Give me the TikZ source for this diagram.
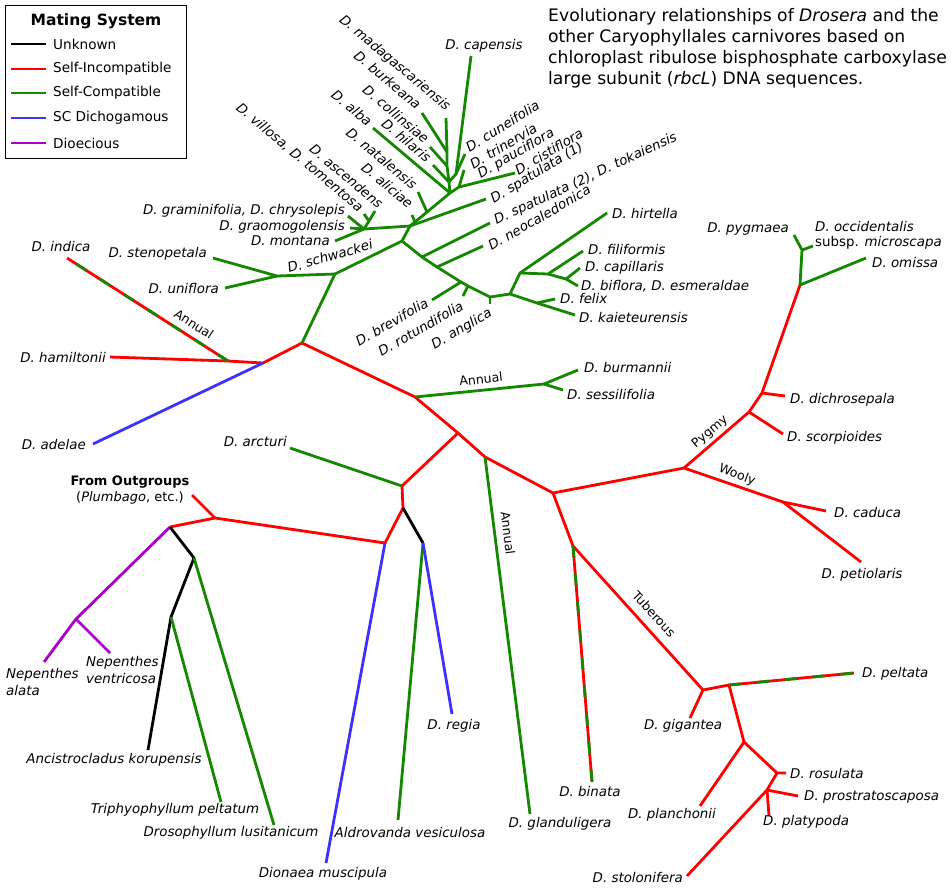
\documentclass[tikz,border=0pt]{standalone}
\usepackage{fontspec}
\setmainfont{DejaVu Sans}
\usepackage{tikz}

\definecolor{sicol}{RGB}{255,0,0}
\definecolor{sccol}{RGB}{20,136,0}
\definecolor{dichcol}{RGB}{60,50,255}
\definecolor{diocol}{RGB}{170,0,200}

\tikzset{
	branch/.style={line width=2.8pt, line join=round},
	unk/.style={branch, draw=black},
	si/.style={branch, draw=sicol},
	sc/.style={branch, draw=sccol},
	dich/.style={branch, draw=dichcol},
	dio/.style={branch, draw=diocol},
	scdash/.style={branch, draw=sccol, dash pattern=on 12pt off 16pt},
	taxon/.style={font=\fontsize{13.4}{15}\selectfont\itshape, inner sep=1pt},
	clade/.style={font=\fontsize{12.5}{14}\selectfont, inner sep=1pt},
	legtext/.style={font=\fontsize{13.6}{16}\selectfont, anchor=west, inner sep=0pt},
}

\begin{document}
\begin{tikzpicture}[x=1pt,y=-1pt]
	\useasboundingbox (0,0) rectangle (952,887);

	%Legend
	\draw [line width=0.8pt] (5,5) rectangle (186,158);
	\node [font=\fontsize{15.5}{18}\selectfont\bfseries] (legtitle) at (96,21) {Mating System};
	\coordinate (leg1a) at (11,44); \coordinate (leg1b) at (46,44);
	\coordinate (leg2a) at (11,69); \coordinate (leg2b) at (46,69);
	\coordinate (leg3a) at (11,93); \coordinate (leg3b) at (46,93);
	\coordinate (leg4a) at (11,118); \coordinate (leg4b) at (46,118);
	\coordinate (leg5a) at (11,143); \coordinate (leg5b) at (46,143);
	\draw [unk] (leg1a) -- (leg1b);
	\draw [si] (leg2a) -- (leg2b);
	\draw [sc] (leg3a) -- (leg3b);
	\draw [dich] (leg4a) -- (leg4b);
	\draw [dio] (leg5a) -- (leg5b);
	\node [legtext] (leg1) at (53,44) {Unknown};
	\node [legtext] (leg2) at (53,69) {Self-Incompatible};
	\node [legtext] (leg3) at (53,93) {Self-Compatible};
	\node [legtext] (leg4) at (53,118) {SC Dichogamous};
	\node [legtext] (leg5) at (53,143) {Dioecious};

	%Title
	\node [anchor=north west, align=left, inner sep=0pt, font=\fontsize{17.2}{21}\selectfont] (title) at (548,8) {Evolutionary relationships of \textit{Drosera} and the\\ other Caryophyllales carnivores based on\\ chloroplast ribulose bisphosphate carboxylase\\ large subunit (\textit{rbcL}) DNA sequences.};

	%Outgroups
	\coordinate (out) at (192,495);
	\coordinate (o1) at (215,518);
	\coordinate (n1) at (170,527);
	\coordinate (nep) at (76,619);
	\coordinate (nalata) at (44,662);
	\coordinate (nventr) at (110,653);
	\coordinate (anc1) at (194,558);
	\coordinate (anc2) at (171,617);
	\coordinate (ancis) at (148,750);
	\coordinate (triph) at (221,802);
	\coordinate (droso) at (274,825);
	\draw [si] (out) -- (o1);
	\draw [si] (n1) -- (o1);
	\draw [dio] (n1) -- (nep) -- (nalata);
	\draw [dio] (nep) -- (nventr);
	\draw [unk] (n1) -- (anc1) -- (anc2) -- (ancis);
	\draw [sc] (anc2) -- (triph);
	\draw [sc] (anc1) -- (droso);

	%Dionaea and Aldrovanda
	\coordinate (n2) at (385,543);
	\coordinate (dion) at (326,863);
	\coordinate (n3) at (403,508);
	\coordinate (n4) at (402,486);
	\coordinate (n5) at (423,543);
	\coordinate (aldro) at (398,820);
	\coordinate (regia) at (452,714);
	\coordinate (arcturi) at (290,448);
	\draw [si] (o1) -- (n2) -- (n3) -- (n4);
	\draw [dich] (n2) -- (dion);
	\draw [unk] (n3) -- (n5);
	\draw [sc] (n5) -- (aldro);
	\draw [dich] (n5) -- (regia);
	\draw [sc] (n4) -- (arcturi);

	%Main Drosera spine
	\coordinate (n6) at (458,433);
	\coordinate (n7) at (415,397);
	\coordinate (n8) at (485,457);
	\coordinate (glandu) at (530,814);
	\coordinate (n9) at (553,493);
	\coordinate (n10) at (684,468);
	\draw [si] (n4) -- (n6) -- (n8) -- (n9) -- (n10);
	\draw [si] (n6) -- (n7);
	\draw [sc] (n8) -- (glandu);

	%Tuberous
	\coordinate (n11) at (573,546);
	\coordinate (binata) at (592,782);
	\coordinate (n12) at (703,690);
	\coordinate (gigantea) at (690,718);
	\coordinate (n13) at (729,685);
	\coordinate (peltata) at (854,673);
	\coordinate (n14) at (744,742);
	\coordinate (planch) at (700,806);
	\coordinate (n15) at (777,773);
	\coordinate (rosul) at (786,773);
	\coordinate (n16) at (767,790);
	\coordinate (prostr) at (798,796);
	\coordinate (platyp) at (769,816);
	\coordinate (stolon) at (687,876);
	\draw [si] (n9) -- (n11) -- (n12) -- (n13) -- (n14) -- (n15) -- (rosul);
	\draw [si] (n12) -- (gigantea);
	\draw [si] (n14) -- (planch);
	\draw [si] (n15) -- (n16) -- (stolon);
	\draw [si] (n16) -- (prostr);
	\draw [si] (n16) -- (platyp);
	\draw [si] (n11) -- (binata);
	\draw [scdash] (n11) -- (binata);
	\draw [si] (n13) -- (peltata);
	\draw [scdash] (n13) -- (peltata);

	%Pygmy
	\coordinate (n17) at (749,412);
	\coordinate (n18) at (762,393);
	\coordinate (scorp) at (783,434);
	\coordinate (dichro) at (785,396);
	\coordinate (n19) at (800,285);
	\coordinate (omissa) at (866,258);
	\coordinate (n20) at (802,250);
	\coordinate (pygm) at (794,235);
	\coordinate (occid) at (813,246);
	\draw [si] (n10) -- (n17) -- (n18) -- (n19);
	\draw [si] (n17) -- (scorp);
	\draw [si] (n18) -- (dichro);
	\draw [sc] (n19) -- (n20) -- (pygm);
	\draw [sc] (n20) -- (occid);
	\draw [sc] (n19) -- (omissa);

	%Wooly
	\coordinate (n21) at (783,502);
	\coordinate (caduca) at (826,511);
	\coordinate (petiol) at (861,562);
	\draw [si] (n10) -- (n21) -- (petiol);
	\draw [si] (n21) -- (caduca);

	%Annual (burmannii)
	\coordinate (n22) at (544,384);
	\coordinate (burm) at (578,370);
	\coordinate (sessil) at (563,390);
	\draw [sc] (n7) -- (n22) -- (burm);
	\draw [sc] (n22) -- (sessil);

	%Left side
	\coordinate (n23) at (302,343);
	\coordinate (n25) at (263,363);
	\coordinate (adelae) at (93,444);
	\coordinate (n26) at (228,361);
	\coordinate (hamilt) at (110,357);
	\coordinate (indica) at (67,258);
	\draw [si] (n7) -- (n23) -- (n25) -- (n26) -- (hamilt);
	\draw [dich] (n25) -- (adelae);
	\draw [si] (n26) -- (indica);
	\draw [scdash] (n26) -- (indica);

	%Self-compatible clade
	\coordinate (n24) at (335,274);
	\coordinate (n27) at (277,276);
	\coordinate (stenop) at (213,258);
	\coordinate (uniflo) at (225,288);
	\coordinate (n28) at (402,241);
	\coordinate (a) at (410,226);
	\draw [sc] (n23) -- (n24) -- (n28) -- (a);
	\draw [sc] (n24) -- (n27) -- (stenop);
	\draw [sc] (n27) -- (uniflo);

	%Spine to hirtella
	\coordinate (c1) at (422,257);
	\coordinate (spat2) at (490,223);
	\coordinate (c2) at (437,267);
	\coordinate (neocal) at (483,246);
	\coordinate (c3) at (461,282);
	\coordinate (brevi) at (432,300);
	\coordinate (c4) at (468,286);
	\coordinate (rotund) at (463,296);
	\coordinate (c5) at (490,297);
	\coordinate (angl) at (490,304);
	\coordinate (c6) at (510,294);
	\coordinate (c7) at (520,273);
	\coordinate (hirt) at (607,213);
	\coordinate (c8) at (548,274);
	\coordinate (filif) at (583,251);
	\coordinate (c9) at (566,279);
	\coordinate (capil) at (580,268);
	\coordinate (biflo) at (578,286);
	\coordinate (c10) at (537,303);
	\coordinate (felix) at (555,299);
	\coordinate (kaiet) at (575,315);
	\draw [sc] (n28) -- (c1) -- (c2) -- (c3) -- (c4) -- (c5) -- (c6) -- (c10) -- (kaiet);
	\draw [sc] (c1) -- (spat2);
	\draw [sc] (c2) -- (neocal);
	\draw [sc] (c3) -- (brevi);
	\draw [sc] (c4) -- (rotund);
	\draw [sc] (c5) -- (angl);
	\draw [sc] (c6) -- (c7) -- (hirt);
	\draw [sc] (c7) -- (c8) -- (filif);
	\draw [sc] (c8) -- (c9) -- (biflo);
	\draw [sc] (c9) -- (capil);
	\draw [sc] (c10) -- (felix);

	%Upper cluster
	\coordinate (k) at (364,229);
	\coordinate (gramin) at (348,216);
	\coordinate (graomo) at (350,228);
	\coordinate (montana) at (335,241);
	\coordinate (l) at (369,221);
	\coordinate (villosa) at (364,214);
	\coordinate (ascend) at (375,211);
	\coordinate (alic1) at (415,222);
	\coordinate (alic) at (412,215);
	\coordinate (natal1) at (427,212);
	\coordinate (natal) at (418,192);
	\coordinate (spat1) at (486,199);
	\coordinate (b) at (450,193);
	\coordinate (alba) at (373,128);
	\coordinate (p) at (449,182);
	\coordinate (hilaris) at (433,165);
	\coordinate (s1) at (447,166);
	\coordinate (collin) at (430,147);
	\coordinate (s2) at (447,152);
	\coordinate (burk) at (422,113);
	\coordinate (madag) at (446,118);
	\coordinate (e) at (456,174);
	\coordinate (capens) at (471,56);
	\coordinate (cunei) at (465,154);
	\coordinate (r) at (459,187);
	\coordinate (cisti) at (515,173);
	\coordinate (pauci) at (464,170);
	\draw [sc] (k) -- (a) -- (natal1) -- (b) -- (p) -- (s1) -- (s2) -- (madag);
	\draw [sc] (k) -- (gramin);
	\draw [sc] (k) -- (graomo);
	\draw [sc] (k) -- (montana);
	\draw [sc] (k) -- (l) -- (ascend);
	\draw [sc] (l) -- (villosa);
	\draw [sc] (alic1) -- (alic);
	\draw [sc] (natal1) -- (natal);
	\draw [sc] (a) -- (spat1);
	\draw [sc] (b) -- (alba);
	\draw [sc] (p) -- (hilaris);
	\draw [sc] (s1) -- (collin);
	\draw [sc] (s2) -- (burk);
	\draw [sc] (b) -- (r) -- (cisti);
	\draw [sc] (r) -- (pauci);
	\draw [sc] (p) -- (e) -- (capens);
	\draw [sc] (e) -- (cunei);

	%Clade labels
	\node [clade, rotate=-33] (annual1) at (194,324) {Annual};
	\node [clade, rotate=6] (annual2) at (481,379) {Annual};
	\node [clade, rotate=-83] (annual3) at (508,533) {Annual};
	\node [clade, rotate=40] (pygmy) at (710,432) {Pygmy};
	\node [clade, rotate=-21] (wooly) at (737,475) {Wooly};
	\node [clade, rotate=-47] (tuberous) at (654,614) {Tuberous};

	%Taxon labels, outgroups
	\node [align=center, inner sep=1pt, font=\fontsize{13}{16}\selectfont] (lout) at (130,490) {\textbf{From Outgroups}\\(\textit{Plumbago}, etc.)};
	\node [taxon, anchor=north west, align=left, font=\fontsize{13.4}{17}\selectfont\itshape] (lnalata) at (5,667) {Nepenthes\\alata};
	\node [taxon, anchor=north west, align=left, font=\fontsize{13.4}{17}\selectfont\itshape] (lnventr) at (85,655) {Nepenthes\\ventricosa};
	\node [taxon] (lancis) at (114,760) {Ancistrocladus korupensis};
	\node [taxon] (ltriph) at (175,810) {Triphyophyllum peltatum};
	\node [taxon] (ldroso) at (231,833) {Drosophyllum lusitanicum};
	\node [taxon] (ldion) at (323,874) {Dionaea muscipula};
	\node [taxon] (laldro) at (410,832) {Aldrovanda vesiculosa};
	\node [taxon] (lregia) at (454,726) {D. regia};
	\node [taxon, anchor=east] (larcturi) at (288,441) {D. arcturi};

	%Taxon labels, right
	\node [taxon] (lglandu) at (560,824) {D. glanduligera};
	\node [taxon] (lbinata) at (590,791) {D. binata};
	\node [taxon] (lgigan) at (683,726) {D. gigantea};
	\node [taxon] (lplanch) at (672,815) {D. planchonii};
	\node [taxon, anchor=east] (lstolon) at (684,877) {D. stolonifera};
	\node [taxon, anchor=west] (lpeltata) at (861,674) {D. peltata};
	\node [taxon, anchor=west] (lrosul) at (789,773) {D. rosulata};
	\node [taxon, anchor=west] (lprostr) at (803,797) {D. prostratoscaposa};
	\node [taxon, anchor=west] (lplatyp) at (762,822) {D. platypoda};
	\node [taxon, anchor=west] (lcaduca) at (833,512) {D. caduca};
	\node [taxon] (lpetiol) at (862,575) {D. petiolaris};
	\node [taxon, anchor=west] (ldichro) at (789,400) {D. dichrosepala};
	\node [taxon, anchor=west] (lscorp) at (786,438) {D. scorpioides};
	\node [taxon, anchor=west] (lomissa) at (871,262) {D. omissa};
	\node [taxon, anchor=east] (lpygm) at (790,229) {D. pygmaea};
	\node [taxon, anchor=north west, align=left] (loccid) at (814,220) {D. occidentalis\\\textup{subsp.} microscapa};
	\node [taxon, anchor=west] (lburm) at (583,367) {D. burmannii};
	\node [taxon, anchor=west] (lsessil) at (566,394) {D. sessilifolia};
	\node [taxon, anchor=west] (lhirt) at (611,213) {D. hirtella};
	\node [taxon, anchor=west] (lfilif) at (587,249) {D. filiformis};
	\node [taxon, anchor=west] (lcapil) at (584,268) {D. capillaris};
	\node [taxon, anchor=west] (lbiflo) at (580,286) {D. biflora, D. esmeraldae};
	\node [taxon, anchor=west] (lfelix) at (559,298) {D. felix};
	\node [taxon, anchor=west] (lkaiet) at (578,317) {D. kaieteurensis};

	%Taxon labels, left
	\node [taxon, anchor=east] (ladelae) at (87,444) {D. adelae};
	\node [taxon, anchor=east] (lhamilt) at (107,357) {D. hamiltonii};
	\node [taxon] (lindica) at (61,246) {D. indica};
	\node [taxon, anchor=east] (lstenop) at (208,254) {D. stenopetala};
	\node [taxon, anchor=east] (luniflo) at (220,288) {D. uniflora};
	\node [taxon, anchor=east] (lgramin) at (346,211) {D. graminifolia, D. chrysolepis};
	\node [taxon, anchor=east] (lgraomo) at (346,227) {D. graomogolensis};
	\node [taxon, anchor=east] (lmontana) at (331,241) {D. montana};
	\node [taxon, rotate=16] (lschw) at (330,256) {D. schwackei};

	%Rotated labels, upper cluster
	\node [taxon, anchor=east, rotate=-40] (lmadag) at (449,109) {D. madagascariensis};
	\node [taxon, anchor=east, rotate=-40] (lburk) at (420,107) {D. burkeana};
	\node [taxon, anchor=east, rotate=-40] (lcollin) at (428,141) {D. collinsiae};
	\node [taxon, anchor=east, rotate=-40] (lhilaris) at (430,160) {D. hilaris};
	\node [taxon, anchor=east, rotate=-40] (lalba) at (371,124) {D. alba};
	\node [taxon, anchor=east, rotate=-40] (lnatal) at (416,187) {D. natalensis};
	\node [taxon, anchor=east, rotate=-40] (lalic) at (412,206) {D. aliciae};
	\node [taxon, anchor=east, rotate=-40] (lascend) at (382,206) {D. ascendens};
	\node [taxon, anchor=east, rotate=-40] (lvillosa) at (362,210) {D. villosa, D. tomentosa};
	\node [taxon] (lcapens) at (484,46) {D. capensis};
	\node [taxon, anchor=west, rotate=32] (lcunei) at (466,149) {D. cuneifolia};
	\node [taxon, anchor=west, rotate=31] (ltrin) at (470,166) {D. trinervia};
	\node [taxon, anchor=west, rotate=30] (lpauci) at (478,176) {D. pauciflora};
	\node [taxon, anchor=west, rotate=31] (lcisti) at (515,172) {D. cistiflora};
	\node [taxon, anchor=west, rotate=31] (lspat1) at (491,201) {D. spatulata (1)};
	\node [taxon, anchor=west, rotate=25] (lspat2) at (494,222) {D. spatulata (2), D. tokaiensis};
	\node [taxon, anchor=west, rotate=30] (lneocal) at (488,247) {D. neocaledonica};
	\node [taxon, anchor=east, rotate=30] (lbrevi) at (428,301) {D. brevifolia};
	\node [taxon, anchor=east, rotate=30] (lrotund) at (463,304) {D. rotundifolia};
	\node [taxon, anchor=east, rotate=30] (langl) at (492,312) {D. anglica};
\end{tikzpicture}
\end{document}
